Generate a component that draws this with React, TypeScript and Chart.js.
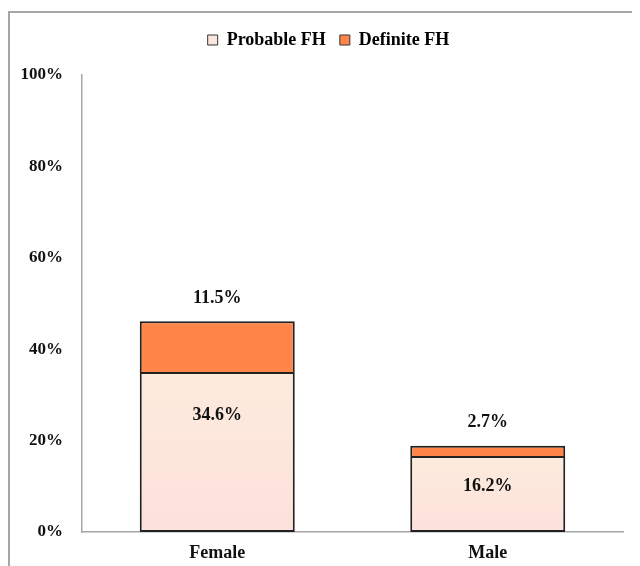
import React, { useEffect, useRef } from "react";
import { Chart, registerables } from "chart.js";

Chart.register(...registerables);

const categories = ["Female", "Male"];
const probableFH = [34.6, 16.2];
const definiteFH = [11.5, 2.7];
const yTicks = [0, 20, 40, 60, 80, 100];

const FONT = "'Liberation Serif', 'Times New Roman', serif";
const ORANGE = "#FF8548";

const labelPlugin = {
  id: "barLabels",
  afterDatasetsDraw(chart: any) {
    const ctx = chart.ctx;
    ctx.save();
    ctx.font = `bold 18px ${FONT}`;
    ctx.fillStyle = "#111";
    ctx.textAlign = "center";
    ctx.textBaseline = "middle";
    const m0 = chart.getDatasetMeta(0);
    m0.data.forEach((bar: any, i: number) => {
      const h = bar.base - bar.y;
      const y = bar.y + Math.min(41, h * 0.38);
      ctx.fillText(probableFH[i].toFixed(1) + "%", bar.x, y);
    });
    const m1 = chart.getDatasetMeta(1);
    m1.data.forEach((bar: any, i: number) => {
      ctx.fillText(definiteFH[i].toFixed(1) + "%", bar.x, bar.y - 23);
    });
    ctx.restore();
  },
};

const legendHeightPlugin = {
  id: "legendHeight",
  beforeInit(chart: any) {
    const legend = chart.legend;
    if (!legend) return;
    const orig = legend.fit;
    legend.fit = function () {
      orig.call(this);
      this.height = 58;
    };
  },
  afterLayout(chart: any) {
    const legend = chart.legend;
    if (!legend) return;
    legend.left += 12;
    legend.right += 12;
  },
};

export default function App() {
  const ref = useRef<HTMLCanvasElement>(null);
  useEffect(() => {
    if (!ref.current) return;
    const chart = new Chart(ref.current, {
      type: "bar",
      data: {
        labels: categories,
        datasets: [
          {
            label: "Probable FH",
            data: probableFH,
            backgroundColor: (c: any) => {
              const ch = c.chart;
              if (!ch.chartArea || c.type !== "data") return "#FCE7DC";
              const ys = ch.scales.y;
              const top = ys.getPixelForValue(c.parsed.y);
              const bot = ys.getPixelForValue(0);
              const g = ch.ctx.createLinearGradient(0, top, 0, bot);
              g.addColorStop(0, "#FCEBDC");
              g.addColorStop(1, "#FDE1DC");
              return g;
            },
            borderColor: "#222",
            borderWidth: 2,
            borderSkipped: "top",
            categoryPercentage: 1,
            barPercentage: 0.573,
          },
          {
            label: "Definite FH",
            data: definiteFH,
            backgroundColor: ORANGE,
            borderColor: "#222",
            borderWidth: 2,
            borderSkipped: false,
            categoryPercentage: 1,
            barPercentage: 0.573,
          },
        ],
      },
      options: {
        animation: false,
        responsive: false,
        layout: { padding: { top: 4, right: 17, left: 0, bottom: 0 } },
        plugins: {
          tooltip: { enabled: false },
          legend: {
            position: "top",
            labels: {
              boxWidth: 10,
              boxHeight: 10,
              padding: 14,
              color: "#111",
              font: { family: FONT, size: 18, weight: "bold" },
              generateLabels: () => [
                { text: "Probable FH", fillStyle: "#FCE7DC", strokeStyle: "#333", lineWidth: 1, datasetIndex: 0 },
                { text: "Definite FH", fillStyle: ORANGE, strokeStyle: "#333", lineWidth: 1, datasetIndex: 1 },
              ],
            },
          },
        },
        scales: {
          x: {
            stacked: true,
            grid: { display: false, drawTicks: false },
            border: { display: true, color: "#A6A6A6", width: 1.5 },
            ticks: { color: "#111", padding: 11, font: { family: FONT, size: 18, weight: "bold" } },
            afterFit: (s: any) => { s.height = 34; },
          },
          y: {
            stacked: true,
            min: 0,
            max: 100,
            afterBuildTicks: (s: any) => { s.ticks = yTicks.map((v) => ({ value: v })); },
            grid: { display: false, drawTicks: false },
            border: { display: true, color: "#A6A6A6", width: 1.5 },
            ticks: {
              color: "#111",
              padding: 19,
              font: { family: FONT, size: 17, weight: "bold" },
              callback: (v: any) => v + "%",
            },
            afterFit: (s: any) => { s.width = 72; },
          },
        },
      },
      plugins: [labelPlugin, legendHeightPlugin],
    });
    return () => chart.destroy();
  }, []);
  return (
    <div
      style={{
        position: "relative",
        width: 632,
        height: 555,
        marginTop: 3,
        borderTop: "2px solid #A6A6A6",
        borderLeft: "2px solid #A6A6A6",
        boxSizing: "border-box",
      }}
    >
      <canvas ref={ref} width={630} height={553} style={{ display: "block" }} />
    </div>
  );
}
